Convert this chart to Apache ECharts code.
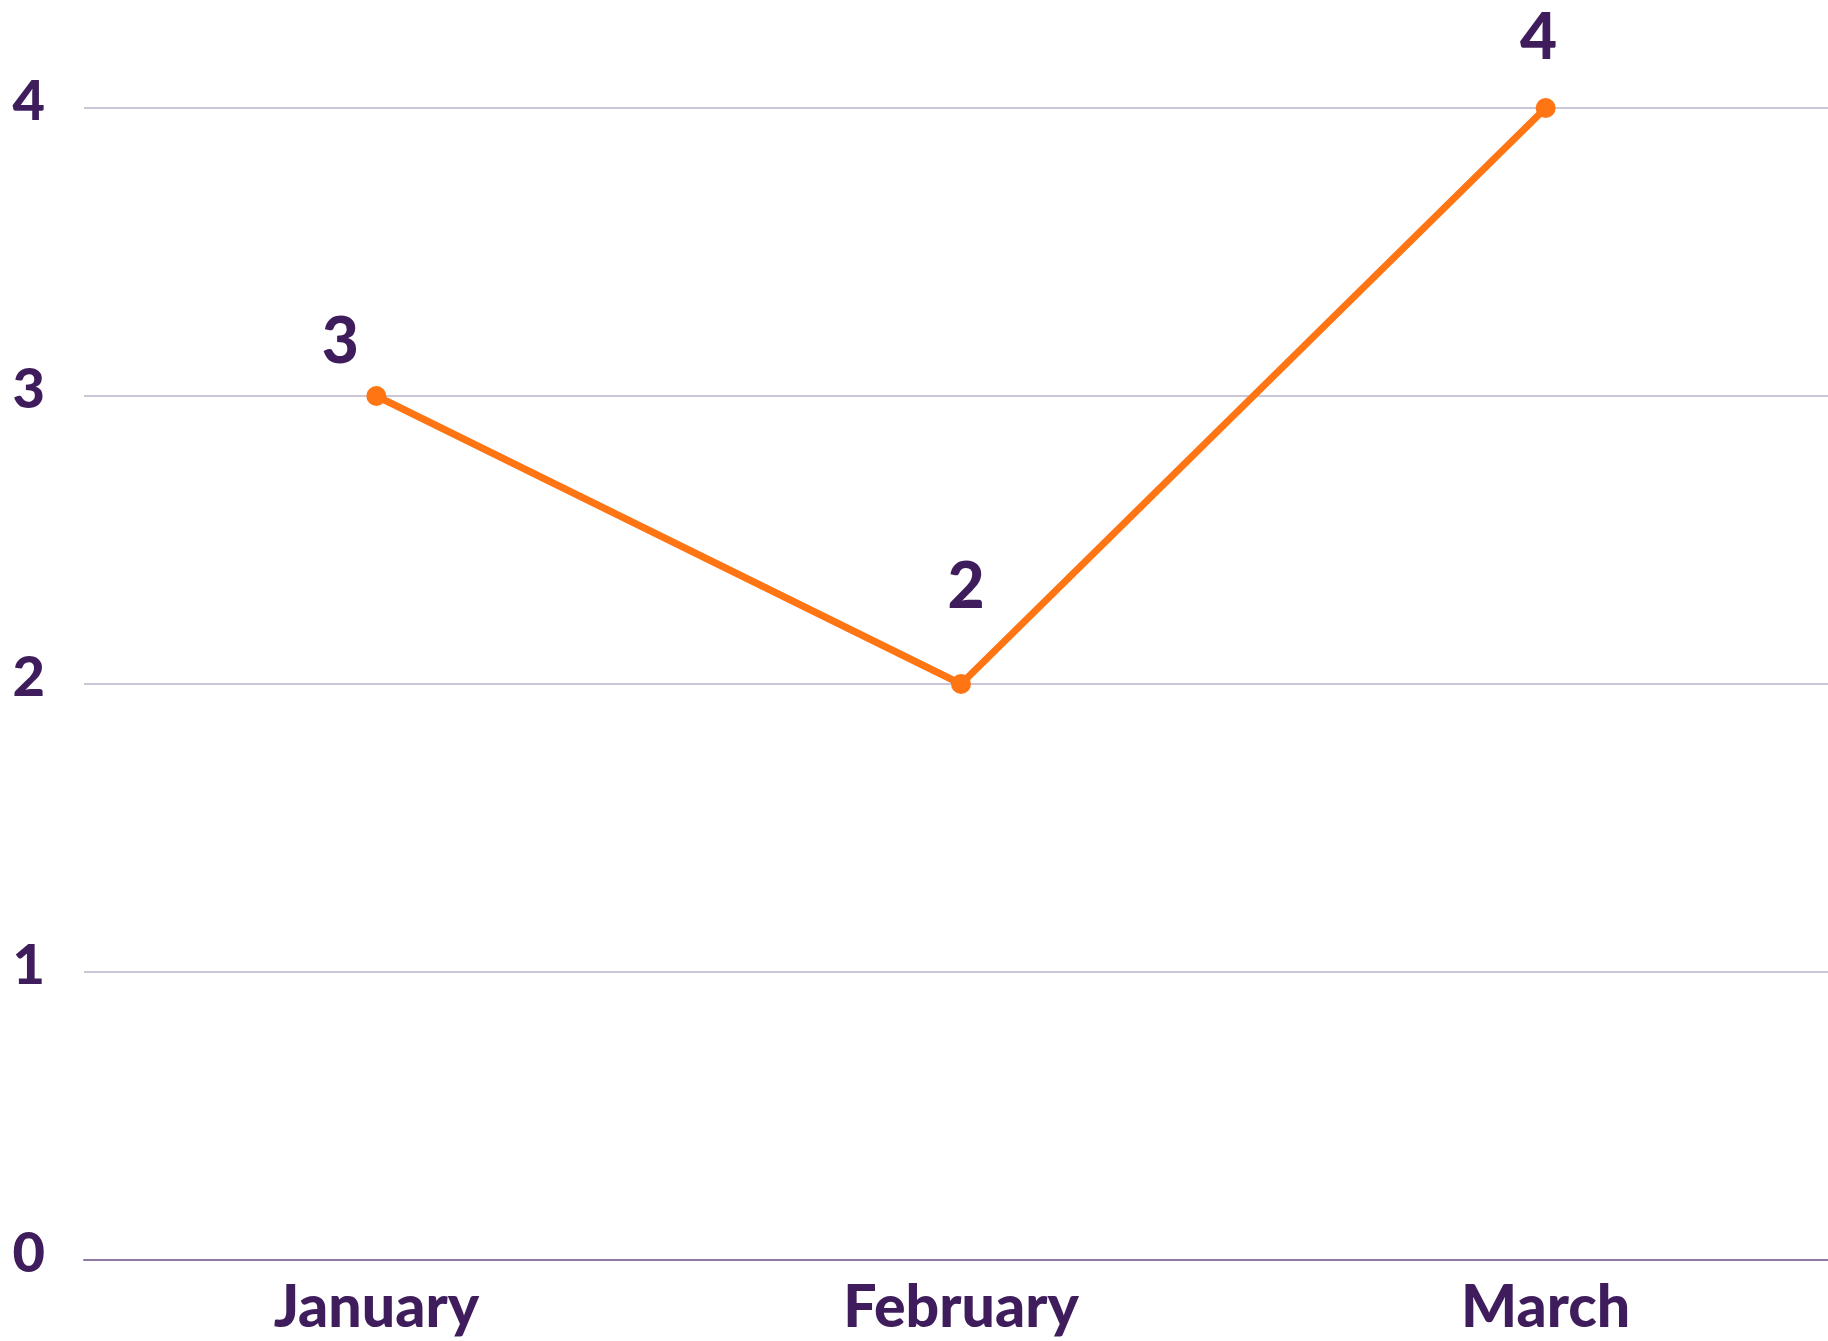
<!DOCTYPE html>
<html>
<head>
<meta charset="utf-8">
<script src="https://cdn.jsdelivr.net/npm/echarts@6/dist/echarts.min.js"></script>
<style>
  html, body { margin: 0; padding: 0; background: #fff; overflow: hidden; }
  #chart { width: 1828px; height: 1341px; }
</style>
</head>
<body>
<div id="chart"></div>
<script>
// data
const months = ['January', 'February', 'March']
const values = [3, 2, 4]
const yTicks = [0, 1, 2, 3, 4]

// label nudges (px from point centre), kept apart from the data
const labelOffsets = [[-36, -54], [5, -97], [-7, -70]]

const textColor = '#3f1d5c'
const fontFamily = 'Lato, "Open Sans", sans-serif'

const chart = echarts.init(document.getElementById('chart'))
const option = {
  animation: false,
  grid: {
    left: 84,
    width: 1754,
    top: 108,
    bottom: 81,
    containLabel: false,
    outerBoundsMode: 'none'
  },
  xAxis: {
    type: 'category',
    data: months,
    boundaryGap: true,
    axisLine: { show: true, lineStyle: { color: '#8e7aa0', width: 2 } },
    axisTick: { show: false },
    axisLabel: {
      color: textColor,
      fontFamily: fontFamily,
      fontWeight: 900,
      fontSize: 59,
      margin: 18
    }
  },
  yAxis: {
    type: 'value',
    min: yTicks[0],
    max: yTicks[yTicks.length - 1],
    interval: 1,
    axisLine: { show: false },
    axisTick: { show: false },
    splitLine: { lineStyle: { color: '#cdc5d8', width: 2 } },
    axisLabel: {
      margin: 39,
      // small empty line under the number lifts it a little above the gridline
      formatter: v => '{n|' + v + '}\n{gap|}',
      rich: {
        n: {
          color: textColor,
          fontFamily: fontFamily,
          fontWeight: 900,
          fontSize: 56,
          align: 'right'
        },
        gap: { height: 12, lineHeight: 12, fontSize: 1 }
      }
    }
  },
  series: [
    {
      type: 'line',
      data: values.map((v, i) => ({
        value: v,
        label: { offset: labelOffsets[i] }
      })),
      symbol: 'circle',
      symbolSize: 20,
      lineStyle: { color: '#ff7514', width: 7 },
      itemStyle: { color: '#ff7514' },
      label: {
        show: true,
        position: 'inside',
        color: textColor,
        fontFamily: fontFamily,
        fontWeight: 900,
        fontSize: 64
      }
    }
  ]
}
chart.setOption(option)
</script>
</body>
</html>
